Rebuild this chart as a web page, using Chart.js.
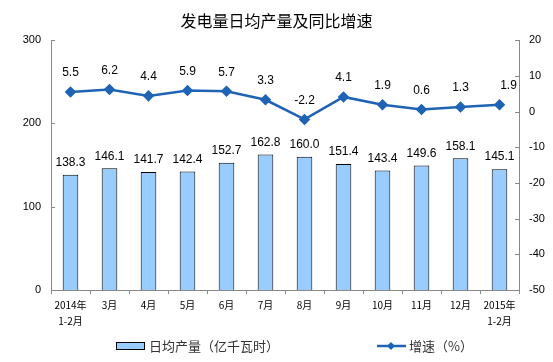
<!DOCTYPE html>
<html>
<head>
<meta charset="utf-8">
<script src="https://cdn.jsdelivr.net/npm/chart.js@4/dist/chart.umd.min.js"></script>
<style>
  html, body { margin: 0; padding: 0; background: #fff; }
</style>
</head>
<body>
<canvas id="chart" width="553" height="362"></canvas>
<script>
const months = [["2014年", "1-2月"], "3月", "4月", "5月", "6月", "7月", "8月", "9月", "10月", "11月", "12月", ["2015年", "1-2月"]];
const dailyOutput = [138.3, 146.1, 141.7, 142.4, 152.7, 162.8, 160.0, 151.4, 143.4, 149.6, 158.1, 145.1];
const growthRate = [5.5, 6.2, 4.4, 5.9, 5.7, 3.3, -2.2, 4.1, 1.9, 0.6, 1.3, 1.9];
const leftTicks = [0, 100, 200, 300];
const rightTicks = [-50, -40, -30, -20, -10, 0, 10, 20];

const barColor = "#99CCFF";
const lineColor = "#1F64B4";
const cjk = "'Noto Sans CJK SC', sans-serif";
const num = "'Liberation Sans', Arial, sans-serif";

// value labels, inner tick marks and the legend
const extras = {
  id: "extras",
  afterDatasetsDraw(chart) {
    const ctx = chart.ctx;
    const bars = chart.getDatasetMeta(1).data;
    const pts = chart.getDatasetMeta(0).data;
    ctx.save();
    ctx.font = "12px " + num;
    ctx.fillStyle = "#000";
    ctx.textAlign = "center";
    ctx.textBaseline = "middle";
    bars.forEach((b, i) => {
      ctx.fillText(dailyOutput[i].toFixed(1), b.x, b.y - 12);
    });
    pts.forEach((p, i) => {
      const dx = i === pts.length - 1 ? 9 : 0;
      ctx.fillText(growthRate[i].toFixed(1), p.x + dx, p.y - 19);
    });

    // tick marks pointing into the plot
    const area = chart.chartArea;
    ctx.strokeStyle = "#888";
    ctx.lineWidth = 1;
    ctx.beginPath();
    leftTicks.forEach(v => {
      const y = Math.round(chart.scales.y.getPixelForValue(v)) + 0.5;
      ctx.moveTo(area.left, y);
      ctx.lineTo(area.left + 4, y);
    });
    rightTicks.forEach(v => {
      const y = Math.round(chart.scales.y1.getPixelForValue(v)) + 0.5;
      ctx.moveTo(area.right, y);
      ctx.lineTo(area.right - 4, y);
    });
    ctx.stroke();

    // legend
    const ly = 346;
    ctx.fillStyle = barColor;
    ctx.fillRect(116, ly - 3, 28, 6);
    ctx.strokeStyle = "#000";
    ctx.strokeRect(116.5, ly - 3.5, 28, 7);
    ctx.strokeStyle = lineColor;
    ctx.lineWidth = 2.5;
    ctx.beginPath();
    ctx.moveTo(377, ly);
    ctx.lineTo(406, ly);
    ctx.stroke();
    ctx.fillStyle = lineColor;
    ctx.beginPath();
    ctx.moveTo(391, ly - 4);
    ctx.lineTo(395, ly);
    ctx.lineTo(391, ly + 4);
    ctx.lineTo(387, ly);
    ctx.closePath();
    ctx.fill();
    ctx.font = "13px " + cjk;
    ctx.fillStyle = "#333";
    ctx.textAlign = "left";
    ctx.fillText("日均产量（亿千瓦时）", 149, ly);
    ctx.fillText("增速（%）", 409, ly);
    ctx.restore();
  }
};

new Chart(document.getElementById("chart"), {
  data: {
    labels: months,
    datasets: [
      {
        type: "line",
        label: "增速（%）",
        data: growthRate,
        yAxisID: "y1",
        borderColor: lineColor,
        backgroundColor: lineColor,
        borderWidth: 2.5,
        pointStyle: "rectRot",
        pointRadius: 4,
        tension: 0,
        order: 0
      },
      {
        type: "bar",
        label: "日均产量（亿千瓦时）",
        data: dailyOutput,
        yAxisID: "y",
        backgroundColor: barColor,
        borderColor: "#000",
        borderWidth: 1,
        barPercentage: 0.4,
        categoryPercentage: 1,
        order: 1
      }
    ]
  },
  options: {
    responsive: false,
    animation: false,
    devicePixelRatio: 1,
    layout: { padding: { left: 0, right: 0, top: 0, bottom: 32 } },
    plugins: {
      legend: { display: false },
      tooltip: { enabled: false },
      title: {
        display: true,
        text: "发电量日均产量及同比增速",
        color: "#000",
        font: { family: cjk, size: 16, weight: "normal" },
        padding: { top: 11, bottom: 10 }
      }
    },
    scales: {
      x: {
        offset: true,
        grid: { display: true, drawOnChartArea: false, offset: true, tickLength: 4, color: "#888" },
        border: { color: "#888" },
        ticks: { color: "#000", font: { family: cjk, size: 10, lineHeight: 1.6 }, padding: 3, maxRotation: 0, autoSkip: false },
        afterFit: s => { s.height = 40; }
      },
      y: {
        position: "left",
        min: leftTicks[0],
        max: leftTicks[leftTicks.length - 1],
        ticks: { stepSize: 100, color: "#000", font: { family: num, size: 11 }, padding: 10 },
        grid: { display: false, drawTicks: false },
        border: { color: "#888" },
        afterFit: s => { s.width = 51; }
      },
      y1: {
        position: "right",
        min: rightTicks[0],
        max: rightTicks[rightTicks.length - 1],
        ticks: { stepSize: 10, color: "#000", font: { family: num, size: 11 }, padding: 10 },
        grid: { display: false, drawTicks: false },
        border: { color: "#888" },
        afterFit: s => { s.width = 34; }
      }
    }
  },
  plugins: [extras]
});
</script>
</body>
</html>
